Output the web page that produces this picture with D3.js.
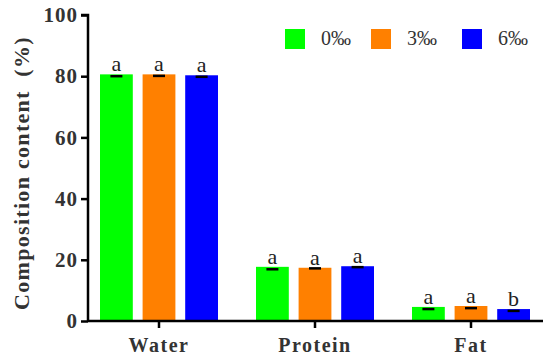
<!DOCTYPE html>
<html>
<head>
    <script src="https://cdn.jsdelivr.net/npm/d3@7"></script>
</head>
<body style="margin:0;background:#fff">
<div id="chart"></div>
<script>
    // data
    const categories = ["Water", "Protein", "Fat"];
    const groups = ["0‰", "3‰", "6‰"];
    const means = [
        [80.6, 80.6, 80.3],
        [17.7, 17.4, 17.9],
        [4.6, 4.9, 3.9]
    ];
    const errLow = [
        [80.0, 80.1, 79.8],
        [16.9, 17.2, 17.6],
        [3.9, 4.2, 3.3]
    ];
    const letters = [
        ["a", "a", "a"],
        ["a", "a", "a"],
        ["a", "a", "b"]
    ];
    const yTicks = [0, 20, 40, 60, 80, 100];
    const colors = ["#00ff00", "#ff8000", "#0000ff"];

    const FONT = "Liberation Serif";
    const width = 550, height = 362;
    const margin = { top: 15, right: 5, bottom: 41, left: 88 };

    const svg = d3.select("#chart").append("svg")
        .attr("width", width)
        .attr("height", height)
        .attr("font-family", FONT);

    const x = d3.scaleBand()
        .domain(categories)
        .range([81, 549])
        .padding(0);

    const groupW = 118;
    const xInner = d3.scaleBand()
        .domain(groups)
        .range([-groupW / 2, groupW / 2])
        .paddingInner(0.23)
        .paddingOuter(0);

    const y = d3.scaleLinear()
        .domain([0, 100])
        .range([height - margin.bottom, margin.top]);

    const g = svg.append("g");

    categories.forEach((cat, i) => {
        const cx = x(cat) + x.bandwidth() / 2;
        groups.forEach((grp, j) => {
            const bx = cx + xInner(grp);
            const mid = bx + xInner.bandwidth() / 2;
            g.append("rect")
                .attr("x", bx)
                .attr("y", y(means[i][j]))
                .attr("width", xInner.bandwidth())
                .attr("height", y(0) - y(means[i][j]))
                .attr("fill", colors[j]);
            // error bar (lower part shown)
            g.append("line")
                .attr("x1", mid - 6)
                .attr("x2", mid + 6)
                .attr("y1", y(errLow[i][j]))
                .attr("y2", y(errLow[i][j]))
                .attr("stroke", "#000")
                .attr("stroke-width", 2.5);
            g.append("text")
                .attr("x", mid)
                .attr("y", y(means[i][j]) - 3)
                .attr("text-anchor", "middle")
                .attr("font-family", FONT)
                .attr("font-size", 22)
                .attr("fill", "#222")
                .text(letters[i][j]);
        });
    });

    // axes
    const yAxis = svg.append("g")
        .attr("transform", `translate(${margin.left},0)`)
        .call(d3.axisLeft(y).tickValues(yTicks).tickSize(7).tickPadding(3))
        .attr("font-family", FONT);
    yAxis.selectAll("path, line").attr("stroke", "#000").attr("stroke-width", 2.5);
    yAxis.select(".domain").attr("d", `M-7,${y(100)}H0V${y(0)}`);
    yAxis.selectAll("text")
        .attr("font-family", FONT)
        .attr("font-weight", "bold")
        .attr("font-size", 21)
        .attr("letter-spacing", 1)
        .attr("fill", "#333");

    const xAxis = svg.append("g")
        .attr("transform", `translate(0,${y(0)})`)
        .call(d3.axisBottom(x).tickSize(7).tickPadding(10))
        .attr("font-family", FONT);
    xAxis.selectAll("path, line").attr("stroke", "#000").attr("stroke-width", 2.5);
    xAxis.select(".domain").attr("d", `M${margin.left},0H${width - 7}`);
    xAxis.selectAll("text")
        .attr("font-family", FONT)
        .attr("font-weight", "bold")
        .attr("font-size", 20)
        .attr("letter-spacing", 1.5)
        .attr("fill", "#333");

    // y title
    svg.append("text")
        .attr("transform", `translate(29,${(y(0) + y(100)) / 2 + 5}) rotate(-90)`)
        .attr("text-anchor", "middle")
        .attr("font-family", FONT)
        .attr("font-weight", "bold")
        .attr("font-size", 22)
        .attr("letter-spacing", 1.3)
        .attr("xml:space", "preserve")
        .attr("fill", "#333")
        .text("Composition content  (%)");

    // legend
    const legendX = [285, 371, 462];
    groups.forEach((grp, j) => {
        svg.append("rect")
            .attr("x", legendX[j])
            .attr("y", 29)
            .attr("width", 20)
            .attr("height", 20)
            .attr("fill", colors[j]);
        svg.append("text")
            .attr("x", legendX[j] + 36)
            .attr("y", 45)
            .attr("font-family", FONT)
            .attr("font-size", 20)
            .attr("fill", "#333")
            .text(grp);
    });
</script>
</body>
</html>
